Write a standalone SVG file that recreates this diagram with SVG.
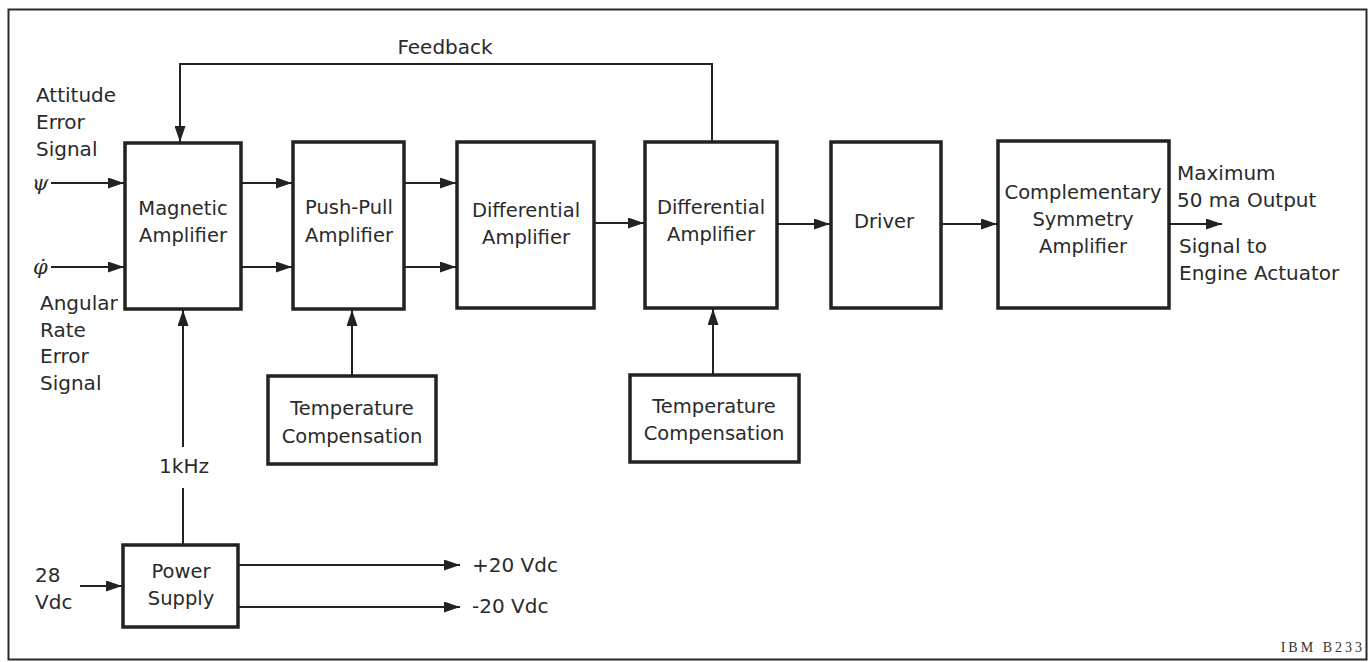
<svg xmlns="http://www.w3.org/2000/svg" width="1369" height="662" viewBox="0 0 1369 662">
<style>
  .bg { fill: #ffffff; }
  .frame { fill: none; stroke: #2a2a2a; stroke-width: 2; }
  .box { fill: #ffffff; stroke: #222222; stroke-width: 3.5; }
  .wire { fill: none; stroke: #222222; stroke-width: 2; }
  .arr { marker-end: url(#ah); }
  .t { font-family: "DejaVu Sans", "Liberation Sans", sans-serif; font-size: 19.5px; fill: #2a2a2a; }
  .c { text-anchor: middle; }
  .lab { font-family: "DejaVu Sans", "Liberation Sans", sans-serif; font-size: 20px; fill: #2a2a2a; }
  .sym { font-family: "DejaVu Serif", "Liberation Serif", serif; font-style: italic; font-size: 21px; fill: #2a2a2a; }
  .id { font-family: "Liberation Serif", "DejaVu Serif", serif; font-size: 14px; letter-spacing: 3px; fill: #333333; text-anchor: end; }
</style>
<defs>
  <marker id="ah" markerUnits="userSpaceOnUse" markerWidth="16" markerHeight="11" refX="16" refY="5.5" orient="auto">
    <path d="M0,0 L16,5.5 L0,11 z" fill="#222222"/>
  </marker>
</defs>
<rect class="bg" x="0" y="0" width="1369" height="662"/>
<rect class="frame" x="8.5" y="9.5" width="1358" height="650"/>

<g id="connectors">
  <path class="wire arr" d="M712,142 V64 H180 V142"/>
  <path class="wire arr" d="M51,183 H124"/>
  <path class="wire arr" d="M51,267 H124"/>
  <path class="wire arr" d="M241,183 H292"/>
  <path class="wire arr" d="M241,267 H292"/>
  <path class="wire arr" d="M404,183 H456"/>
  <path class="wire arr" d="M404,267 H456"/>
  <path class="wire arr" d="M594,223 H644"/>
  <path class="wire arr" d="M777,224 H830"/>
  <path class="wire arr" d="M941,224 H997"/>
  <path class="wire arr" d="M1169,224 H1222"/>
  <path class="wire arr" d="M352,376 V310"/>
  <path class="wire arr" d="M713,375 V309"/>
  <path class="wire" d="M183,545 V488"/>
  <path class="wire arr" d="M183,447 V310"/>
  <path class="wire arr" d="M80,586 H122"/>
  <path class="wire arr" d="M238,565 H460"/>
  <path class="wire arr" d="M238,607 H460"/>
</g>

<g id="mag-amp">
  <rect class="box" x="125" y="143" width="116" height="166"/>
  <text class="t c" x="183" y="215">Magnetic</text>
  <text class="t c" x="183" y="242">Amplifier</text>
</g>
<g id="push-pull">
  <rect class="box" x="293" y="142" width="111" height="167"/>
  <text class="t c" x="349" y="214">Push-Pull</text>
  <text class="t c" x="349" y="242">Amplifier</text>
</g>
<g id="diff1">
  <rect class="box" x="457" y="142" width="137" height="166"/>
  <text class="t c" x="526" y="217">Differential</text>
  <text class="t c" x="526" y="244">Amplifier</text>
</g>
<g id="diff2">
  <rect class="box" x="645" y="142" width="132" height="166"/>
  <text class="t c" x="711" y="214">Differential</text>
  <text class="t c" x="711" y="241">Amplifier</text>
</g>
<g id="driver">
  <rect class="box" x="831" y="142" width="110" height="166"/>
  <text class="t c" x="884" y="228">Driver</text>
</g>
<g id="comp-sym">
  <rect class="box" x="998" y="141" width="171" height="167"/>
  <text class="t c" x="1083" y="199">Complementary</text>
  <text class="t c" x="1083" y="226">Symmetry</text>
  <text class="t c" x="1083" y="253">Amplifier</text>
</g>
<g id="temp-comp-1">
  <rect class="box" x="268" y="376" width="168" height="88"/>
  <text class="t c" x="352" y="415">Temperature</text>
  <text class="t c" x="352" y="443">Compensation</text>
</g>
<g id="temp-comp-2">
  <rect class="box" x="630" y="375" width="169" height="87"/>
  <text class="t c" x="714" y="413">Temperature</text>
  <text class="t c" x="714" y="440">Compensation</text>
</g>
<g id="power-supply">
  <rect class="box" x="123" y="545" width="115" height="82"/>
  <text class="t c" x="181" y="578">Power</text>
  <text class="t c" x="181" y="605">Supply</text>
</g>

<g id="labels">
  <text class="lab c" x="445" y="54">Feedback</text>
  <text class="lab" x="36" y="102">Attitude</text>
  <text class="lab" x="36" y="129">Error</text>
  <text class="lab" x="36" y="156">Signal</text>
  <text class="sym" x="32" y="190">ψ</text>
  <text class="sym" x="33" y="274">φ̇</text>
  <text class="lab" x="40" y="310">Angular</text>
  <text class="lab" x="40" y="337">Rate</text>
  <text class="lab" x="40" y="363">Error</text>
  <text class="lab" x="40" y="390">Signal</text>
  <text class="lab c" x="184" y="473">1kHz</text>
  <text class="lab" x="35" y="582">28</text>
  <text class="lab" x="35" y="609">Vdc</text>
  <text class="lab" x="472" y="572">+20 Vdc</text>
  <text class="lab" x="472" y="613">-20 Vdc</text>
  <text class="lab" x="1177" y="180">Maximum</text>
  <text class="lab" x="1177" y="207">50 ma Output</text>
  <text class="lab" x="1179" y="253">Signal to</text>
  <text class="lab" x="1179" y="280">Engine Actuator</text>
  <text class="id" x="1365" y="652">IBM B233</text>
</g>
</svg>
